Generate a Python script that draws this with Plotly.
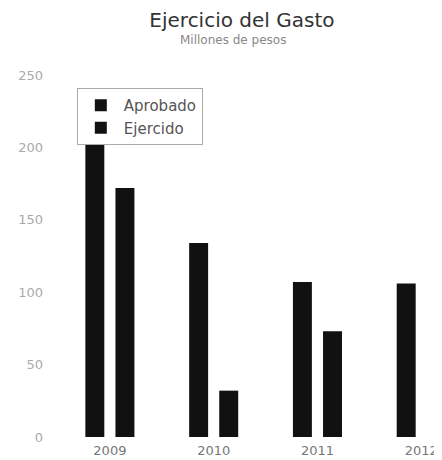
import plotly.graph_objects as go

years = ["2009", "2010", "2011", "2012"]
aprobado = [205, 134, 107, 106]
ejercido = [172, 32, 73, 0]
y_ticks = [0, 50, 100, 150, 200, 250]

FONT = "DejaVu Sans, Open Sans, sans-serif"

fig = go.Figure()
fig.add_trace(go.Bar(name="Aprobado", x=years, y=aprobado, marker_color="#111111",
                     marker_line_width=0))
fig.add_trace(go.Bar(name="Ejercido", x=years, y=ejercido, marker_color="#111111",
                     marker_line_width=0))

# page has an 8px body margin, so the figure is 8px smaller than the window
fig.update_layout(
    width=434, height=452,
    margin=dict(l=50, r=0, t=67, b=23),
    paper_bgcolor="white", plot_bgcolor="white",
    font=dict(family=FONT, color="#555555"),
    barmode="group", bargap=0.42, bargroupgap=0.37,
    title=dict(text="Ejercicio del Gasto", xref="container", x=0.539, xanchor="center",
               yref="container", y=0.973, yanchor="middle",
               font=dict(family=FONT, size=20, color="#333333")),
    annotations=[dict(text="Millones de pesos", xref="paper", yref="paper", x=0.456, y=1.097,
                      xanchor="center", yanchor="middle", showarrow=False,
                      font=dict(family=FONT, size=12, color="#888888"))],
    showlegend=True,
    legend=dict(x=0.049, y=0.964, xanchor="left", yanchor="top",
                bordercolor="#aaaaaa", borderwidth=1, bgcolor="white",
                font=dict(family=FONT, size=15, color="#555555"), tracegroupgap=0,
                itemwidth=36),
    xaxis=dict(type="category", range=[-0.5, 3.2], showline=False, showgrid=False,
               ticks="", ticklabelstandoff=4,
               tickfont=dict(family=FONT, size=13, color="#777777"), automargin=False),
    yaxis=dict(range=[0, 250], tickvals=y_ticks, showgrid=False, zeroline=False, showline=False,
               ticks="", ticklabelstandoff=14,
               tickfont=dict(family=FONT, size=13, color="#aaaaaa"), automargin=False),
)

fig.write_html("out.html")
